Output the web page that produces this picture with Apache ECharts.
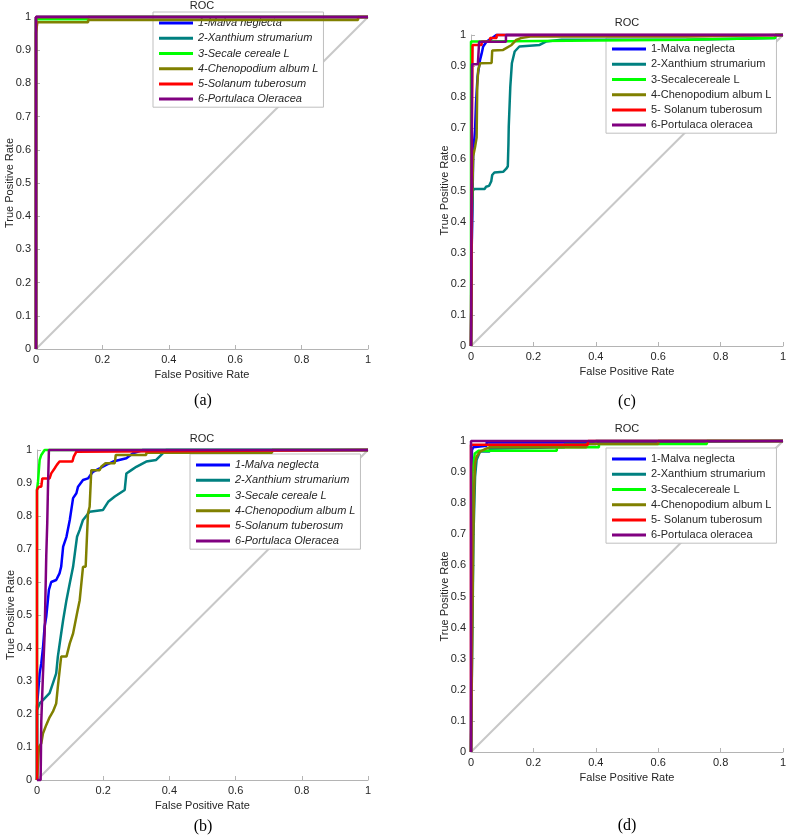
<!DOCTYPE html>
<html><head><meta charset="utf-8">
<script src="https://cdn.jsdelivr.net/npm/echarts@6/dist/echarts.min.js"></script>
<style>html,body{margin:0;padding:0;background:#fff}#c{width:787px;height:836px}</style>
</head><body><div id="c"></div>
<script>
// ---------- data ----------
const namesAB = ['1-Malva neglecta','2-Xanthium strumarium','3-Secale cereale L','4-Chenopodium album L','5-Solanum tuberosum','6-Portulaca Oleracea'];
const namesCD = ['1-Malva neglecta','2-Xanthium strumarium','3-Secalecereale L','4-Chenopodium album L','5- Solanum tuberosum','6-Portulaca oleracea'];
const panelLabels = ['(a)','(c)','(b)','(d)'];
const xTicks = [0,0.2,0.4,0.6,0.8,1];
const yTicks = [0,0.1,0.2,0.3,0.4,0.5,0.6,0.7,0.8,0.9,1];
const diagonal = [[0,0],[1,1]];

// panel (a)
const A1 = [[0,0],[0,1],[1,1]];
const A2 = [[0,0],[0,1],[1,1]];
const A3 = [[0,0],[0,0.993],[0.157,0.993],[0.157,1],[1,1]];
const A4 = [[0,0],[0,0.952],[0.004,0.952],[0.004,0.984],[0.157,0.984],[0.157,0.991],[0.97,0.991],[0.97,1],[1,1]];
const A5 = [[0,0],[0,1],[1,1]];
const A6 = [[0,0],[0,1],[1,1]];

// panel (c)
const C1 = [[0,0],[0.002,0.30],[0.004,0.41],[0.007,0.62],[0.013,0.695],[0.016,0.78],[0.021,0.866],[0.029,0.92],[0.034,0.94],[0.039,0.963],[0.05,0.979],[0.066,0.989],[0.081,1],[1,1]];
const C2 = [[0,0],[0.003,0.41],[0.006,0.505],[0.044,0.505],[0.048,0.512],[0.058,0.515],[0.065,0.53],[0.068,0.55],[0.075,0.558],[0.103,0.56],[0.113,0.57],[0.118,0.578],[0.12,0.65],[0.121,0.706],[0.126,0.834],[0.131,0.909],[0.14,0.947],[0.155,0.963],[0.22,0.968],[0.24,0.979],[0.29,0.985],[0.69,0.985],[0.69,0.99],[0.975,0.99],[0.975,1],[1,1]];
const C3 = [[0,0],[0,0.979],[0.03,0.979],[0.03,0.985],[0.69,0.985],[0.69,0.99],[0.975,0.99],[0.975,1],[1,1]];
const C4 = [[0,0],[0.003,0.45],[0.007,0.61],[0.013,0.64],[0.018,0.67],[0.02,0.834],[0.023,0.888],[0.029,0.909],[0.066,0.91],[0.068,0.95],[0.103,0.952],[0.108,0.957],[0.13,0.968],[0.145,0.984],[0.16,0.99],[0.19,0.995],[0.69,0.995],[0.69,1],[1,1]];
const C5 = [[0,0],[0.003,0.7],[0.005,0.968],[0.034,0.968],[0.034,0.978],[0.061,0.978],[0.061,0.99],[0.082,0.99],[0.082,1],[1,1]];
const C6 = [[0,0],[0.003,0.906],[0.022,0.906],[0.026,0.978],[0.112,0.978],[0.112,1],[1,1]];

// panel (b)
const B1 = [[0,0],[0,0.222],[0.003,0.222],[0.008,0.323],[0.013,0.354],[0.018,0.40],[0.023,0.465],[0.028,0.495],[0.036,0.576],[0.043,0.60],[0.058,0.606],[0.068,0.626],[0.073,0.646],[0.079,0.707],[0.089,0.737],[0.099,0.788],[0.109,0.854],[0.119,0.869],[0.124,0.889],[0.139,0.909],[0.154,0.914],[0.169,0.934],[0.189,0.944],[0.209,0.955],[0.23,0.965],[0.27,0.975],[0.29,0.99],[0.32,1],[1,1]];
const B2 = [[0,0],[0,0.212],[0.008,0.232],[0.018,0.242],[0.038,0.263],[0.048,0.293],[0.058,0.323],[0.063,0.374],[0.073,0.444],[0.079,0.485],[0.089,0.545],[0.099,0.596],[0.109,0.646],[0.117,0.707],[0.121,0.737],[0.129,0.758],[0.139,0.788],[0.159,0.813],[0.199,0.818],[0.215,0.843],[0.235,0.859],[0.265,0.879],[0.27,0.929],[0.285,0.939],[0.30,0.949],[0.33,0.965],[0.36,0.97],[0.38,0.99],[0.39,1],[1,1]];
const B3 = [[0,0],[0,0.879],[0.003,0.904],[0.008,0.97],[0.013,0.985],[0.023,1],[1,1]];
const B4 = [[0,0],[0.006,0.10],[0.013,0.111],[0.018,0.141],[0.028,0.167],[0.038,0.19],[0.048,0.207],[0.058,0.232],[0.063,0.283],[0.073,0.374],[0.089,0.374],[0.099,0.414],[0.109,0.444],[0.121,0.505],[0.129,0.545],[0.139,0.646],[0.147,0.646],[0.154,0.808],[0.159,0.828],[0.164,0.939],[0.189,0.939],[0.194,0.949],[0.207,0.96],[0.235,0.96],[0.238,0.985],[0.33,0.985],[0.33,0.992],[0.71,0.992],[0.71,1],[1,1]];
const B5 = [[0,0],[0,0.879],[0.006,0.879],[0.006,0.889],[0.013,0.889],[0.016,0.914],[0.038,0.914],[0.043,0.929],[0.053,0.944],[0.06,0.955],[0.068,0.965],[0.107,0.965],[0.111,0.98],[0.119,0.995],[0.122,1],[1,1]];
const B6 = [[0,0],[0.011,0],[0.013,0.18],[0.018,0.32],[0.023,0.44],[0.028,0.68],[0.031,0.78],[0.033,0.88],[0.036,1],[1,1]];

// panel (d)
const D1 = [[0,0],[0.003,0.97],[0.007,0.98],[0.05,0.985],[0.05,0.995],[0.275,0.995],[0.275,1],[1,1]];
const D2 = [[0,0],[0.008,0.7],[0.013,0.885],[0.018,0.94],[0.029,0.966],[0.06,0.966],[0.06,0.975],[0.3,0.98],[0.3,0.99],[0.4,0.99],[0.4,1],[1,1]];
const D3 = [[0,0],[0.005,0.9],[0.012,0.96],[0.025,0.969],[0.275,0.969],[0.275,0.98],[0.41,0.98],[0.41,0.99],[0.756,0.99],[0.756,1],[1,1]];
const D4 = [[0,0],[0.007,0.67],[0.01,0.85],[0.013,0.928],[0.018,0.95],[0.029,0.966],[0.05,0.976],[0.06,0.98],[0.37,0.98],[0.37,0.99],[0.6,0.99],[0.6,1],[1,1]];
const D5 = [[0,0],[0,0.988],[0.375,0.988],[0.375,1],[1,1]];
const D6 = [[0,0],[0,1],[1,1]];

// ---------- layout / style ----------
const COLORS = ['#0000ff','#008080','#00ff00','#808000','#ff0000','#800080'];
const FONT = "'Liberation Sans', Arial, Helvetica, sans-serif";
const SERIF = "'Liberation Serif', 'Times New Roman', serif";
const TXT = '#262626';
const AX = '#b4b4b4';

const panels = [
  {grid:{left:36, top:17, width:332, height:332}, data:[A1,A2,A3,A4,A5,A6], names:namesAB, italic:true,
   legend:{left:153, top:12}, title:[202,6], label:[203,401]},
  {grid:{left:471, top:35, width:312, height:311}, data:[C1,C2,C3,C4,C5,C6], names:namesCD, italic:false,
   legend:{left:606, top:38}, title:[627,23], label:[627,402]},
  {grid:{left:37, top:450, width:331, height:330}, data:[B1,B2,B3,B4,B5,B6], names:namesAB, italic:true,
   legend:{left:190, top:454}, title:[202,439], label:[203,827]},
  {grid:{left:471, top:441, width:312, height:311}, data:[D1,D2,D3,D4,D5,D6], names:namesCD, italic:false,
   legend:{left:606, top:448}, title:[627,429], label:[627,826]}
];

const grid = [], xAxis = [], yAxis = [], series = [], legend = [], graphic = [];
panels.forEach((p, i) => {
  grid.push(Object.assign({outerBoundsMode:'none', containLabel:false}, p.grid));
  const axisCommon = {
    type:'value', min:0, max:1,
    axisLine:{show:true, onZero:false, lineStyle:{color:AX, width:1}},
    axisTick:{show:true, inside:true, length:4, lineStyle:{color:AX}},
    splitLine:{show:false},
    axisLabel:{color:TXT, fontSize:11, fontFamily:FONT, margin:5},
    nameLocation:'middle', nameMoveOverlap:false,
    nameTextStyle:{color:TXT, fontSize:11, fontFamily:FONT}
  };
  xAxis.push(Object.assign({}, axisCommon, {gridIndex:i, interval:xTicks[1]-xTicks[0], name:'False Positive Rate', nameGap:20}));
  yAxis.push(Object.assign({}, axisCommon, {gridIndex:i, interval:yTicks[1]-yTicks[0], name:'True Positive Rate', nameGap:21}));
  series.push({type:'line', name:'diag'+i, xAxisIndex:i, yAxisIndex:i, data:diagonal, symbol:'none', silent:true,
    lineStyle:{color:'#c8c8c8', width:2}, z:1, clip:false, animation:false});
  p.data.forEach((d, j) => {
    series.push({type:'line', name:p.names[j], xAxisIndex:i, yAxisIndex:i, data:d, symbol:'none', showSymbol:false,
      lineStyle:{color:COLORS[j], width:2.5}, itemStyle:{color:COLORS[j]}, z:5, clip:false, animation:false});
  });
  legend.push({data:p.names, left:p.legend.left, top:p.legend.top, orient:'vertical', icon:'rect',
    itemWidth:34, itemHeight:3, itemGap:0, itemTextGap:5, padding:[3.5,5,0.5,6],
    borderColor:'#bfbfbf', borderWidth:1, borderRadius:0, backgroundColor:'#ffffff', selectedMode:false, z:3,
    textStyle:{fontSize:11, fontFamily:FONT, color:TXT, fontStyle:p.italic?'italic':'normal', lineHeight:15.2}});
  graphic.push({type:'text', x:p.title[0], y:p.title[1], style:{text:'ROC', fill:TXT, font:'11px '+FONT, align:'center', verticalAlign:'middle'}});
  graphic.push({type:'text', x:p.label[0], y:p.label[1], style:{text:panelLabels[i], fill:'#000', font:'16px '+SERIF, align:'center', verticalAlign:'middle'}});
});

const chart = echarts.init(document.getElementById('c'), null, {renderer:'canvas'});
chart.setOption({backgroundColor:'#ffffff', animation:false, grid, xAxis, yAxis, series, legend, graphic});
</script></body></html>
